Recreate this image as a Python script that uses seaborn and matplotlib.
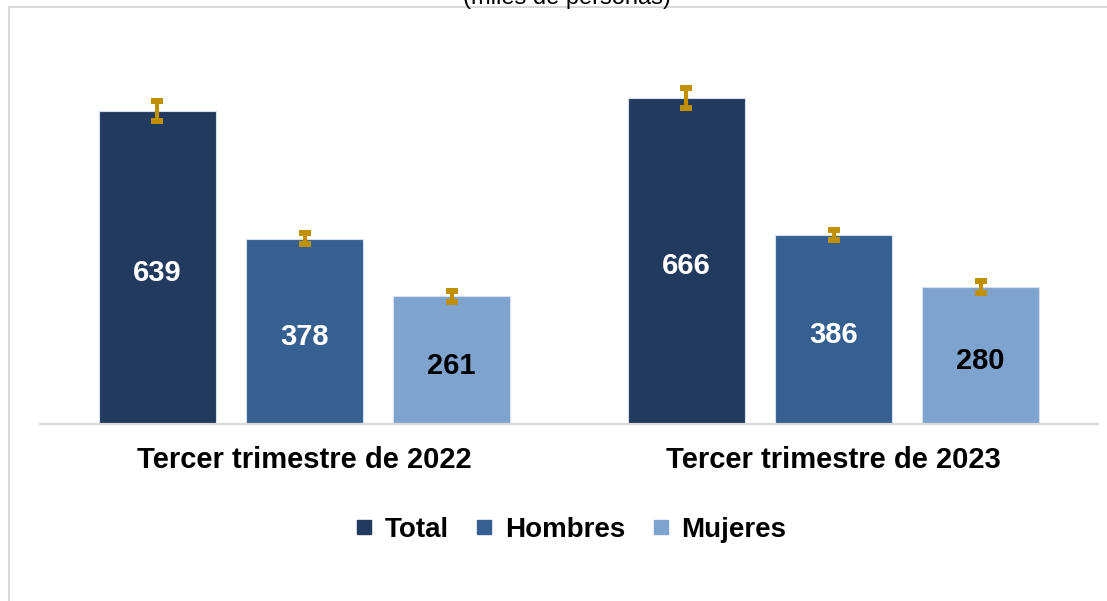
import matplotlib.pyplot as plt
import seaborn as sns
import pandas as pd
from matplotlib.lines import Line2D
from matplotlib.patches import Rectangle

# datos (miles de personas)
periodos = ["Tercer trimestre de 2022", "Tercer trimestre de 2023"]
series = ["Total", "Hombres", "Mujeres"]
total = [639, 666]
hombres = [378, 386]
mujeres = [261, 280]
err_total = [20, 20]
err_hombres = [11, 11]
err_mujeres = [11, 12]

colores = ["#223A5E", "#376092", "#7EA3CF"]
color_etiqueta = ["white", "white", "black"]

df = pd.DataFrame({
    "periodo": periodos * 3,
    "serie": [s for s in series for _ in periodos],
    "valor": total + hombres + mujeres,
})
errores = [err_total, err_hombres, err_mujeres]

sns.set_style("white")
plt.rcParams["font.family"] = ["Liberation Sans", "DejaVu Sans"]

fig = plt.figure(figsize=(11.07, 6.01), dpi=100)
ax = fig.add_axes([40 / 1107, 177 / 601, 1058 / 1107, 384 / 601])

sns.barplot(data=df, x="periodo", y="valor", hue="serie", hue_order=series,
            palette=colores, saturation=1, width=0.834, gap=0.205,
            edgecolor="#D6E0EC", linewidth=0.8, legend=False, ax=ax)

for cont, errs, col in zip(ax.containers, errores, color_etiqueta):
    xs = [p.get_x() + p.get_width() / 2 for p in cont]
    hs = [p.get_height() for p in cont]
    ax.errorbar(xs, hs, yerr=errs, fmt="none", ecolor="#C09000",
                elinewidth=3, capsize=4.3, capthick=4.3, zorder=5)
    for x, h in zip(xs, hs):
        ax.annotate(f"{h:.0f}", xy=(x, h / 2), xytext=(0, -4),
                    textcoords="offset points", ha="center", va="center",
                    color=col, fontsize=21, fontweight="bold")

ax.set_xlim(-0.5, 1.5)
ax.set_ylim(0, 784)
ax.set_xlabel("")
ax.set_ylabel("")
ax.set_yticks([])
for s in ["top", "right", "left"]:
    ax.spines[s].set_visible(False)
ax.spines["bottom"].set_color("#D9D9D9")
ax.spines["bottom"].set_linewidth(1.6)
ax.tick_params(axis="x", length=0, pad=16)
for lab in ax.get_xticklabels():
    lab.set_fontsize(21)
    lab.set_fontweight("bold")
    lab.set_color("black")

handles = [Line2D([], [], marker="s", linestyle="none", markersize=9.5,
                  markerfacecolor=c, markeredgecolor=c) for c in colores]
leg = fig.legend(handles, series, loc="center", bbox_to_anchor=(571 / 1107, 1 - 530 / 601),
                 ncol=3, frameon=False, handlelength=0.6, handletextpad=0.45,
                 columnspacing=0.97, prop={"size": 20, "weight": "bold"})
for t in leg.get_texts():
    t.set_color("black")

# marco del grafico
fig.patches.append(Rectangle((8.5 / 1107, -0.05), 1.2, 1 - 7 / 601 + 0.05,
                             transform=fig.transFigure, fill=False,
                             edgecolor="#D9D9D9", linewidth=1.5))
fig.text(567 / 1107, 1 - 4 / 601, "(miles de personas)", ha="center", va="baseline",
         fontsize=17, color="black")

fig.savefig("out.png", dpi=100)
